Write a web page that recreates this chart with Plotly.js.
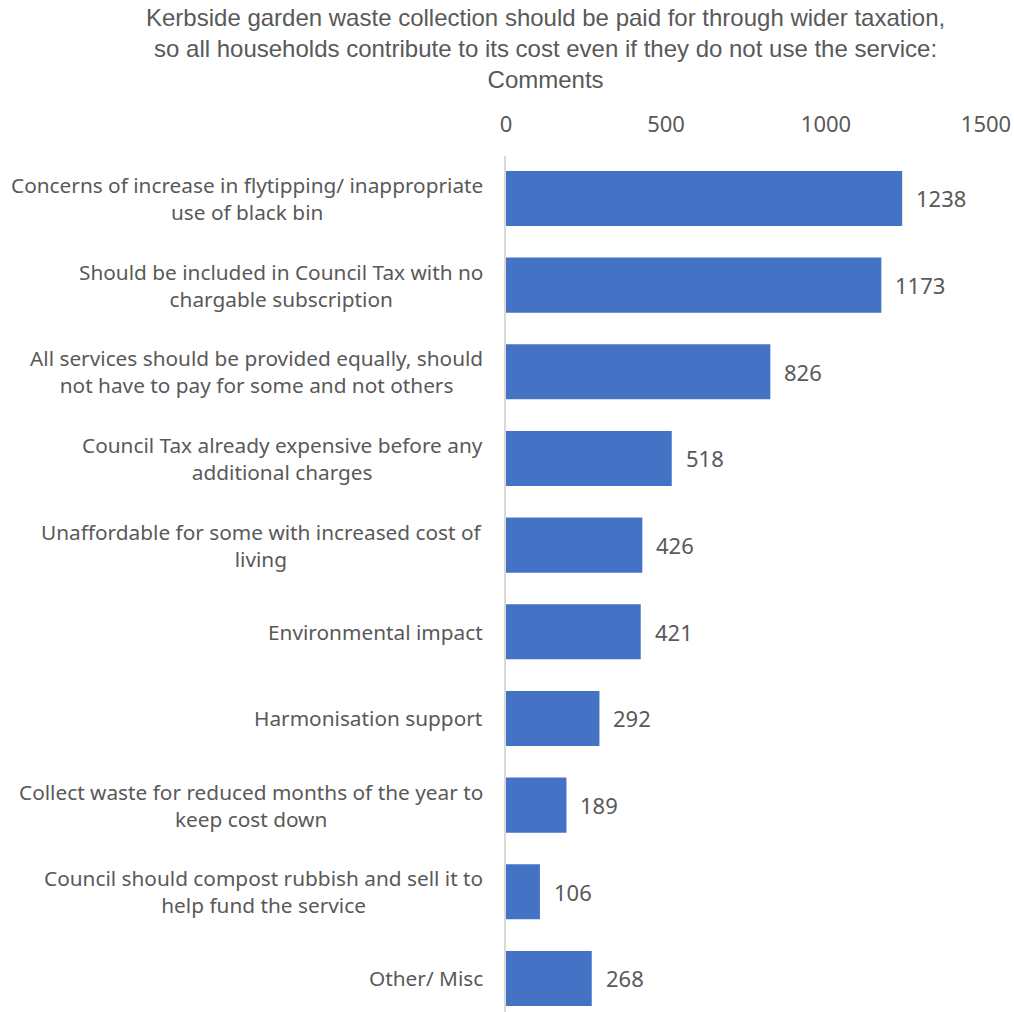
<!DOCTYPE html>
<html><head><meta charset="utf-8">
<script src="https://cdn.plot.ly/plotly-3.0.1.min.js"></script>
<style>html,body{margin:0;padding:0;background:#fff}</style>
</head><body>
<div id="chart" style="width:1014px;height:1012px"></div>
<script>
const categories = [
  "Concerns of increase in flytipping/ inappropriate<br>use of black bin",
  "Should be included in Council Tax with no<br>chargable subscription",
  "All services should be provided equally, should<br>not have to pay for some and not others",
  "Council Tax already expensive before any<br>additional charges",
  "Unaffordable for some with increased cost of<br>living",
  "Environmental impact",
  "Harmonisation support",
  "Collect waste for reduced months of the year to<br>keep cost down",
  "Council should compost rubbish and sell it to<br>help fund the service",
  "Other/ Misc"
];
const counts = [1238, 1173, 826, 518, 426, 421, 292, 189, 106, 268];
const tickValues = [0, 500, 1000, 1500];
const titleText = "Kerbside garden waste collection should be paid for through wider taxation,<br>so all households contribute to its cost even if they do not use the service:<br>Comments";

const grey = "#595959";
const catFont = {family: "Noto Sans, Open Sans, sans-serif", size: 20.8, color: grey};
const numFont = {family: "Noto Sans, Open Sans, sans-serif", size: 22, color: grey};

const trace = {
  type: "bar",
  orientation: "h",
  x: counts,
  y: categories,
  marker: {color: "#4472C4"},
  hoverinfo: "x+y"
};

const valueAnnotations = counts.map((v, i) => ({
  x: v, y: categories[i], xref: "x", yref: "y",
  text: String(v), showarrow: false, xanchor: "left", xshift: 12,
  font: numFont
}));

const categoryAnnotations = categories.map((c) => ({
  x: 0, y: c, xref: "paper", yref: "y",
  text: c, showarrow: false, xanchor: "right", align: "center", xshift: -21,
  font: catFont
}));

const titleAnnotation = {
  x: (545 - 506) / 480, y: 1, xref: "paper", yref: "paper",
  xanchor: "center", yanchor: "bottom", yshift: 61, align: "center",
  showarrow: false, text: titleText,
  font: {family: "Liberation Sans, Arial, sans-serif", size: 24, color: grey}
};

const layout = {
  width: 1014, height: 1012,
  margin: {l: 506, r: 28, t: 156, b: 0, pad: 0},
  paper_bgcolor: "#fff", plot_bgcolor: "#fff",
  bargap: 0.365,
  showlegend: false,
  xaxis: {
    side: "top",
    range: [0, 1500],
    tickvals: tickValues,
    ticktext: tickValues.map(String),
    showgrid: false, zeroline: false, showline: false,
    ticks: "", ticklabelstandoff: 19,
    tickfont: numFont,
    automargin: false
  },
  yaxis: {
    type: "category",
    range: [9.387, -0.49],
    showgrid: false, zeroline: false,
    showline: true, linecolor: "#d9d9d9", linewidth: 2,
    ticks: "", showticklabels: false,
    automargin: false
  },
  annotations: [titleAnnotation].concat(categoryAnnotations, valueAnnotations)
};

Plotly.newPlot("chart", [trace], layout, {displayModeBar: false, staticPlot: true});
</script>
</body></html>
